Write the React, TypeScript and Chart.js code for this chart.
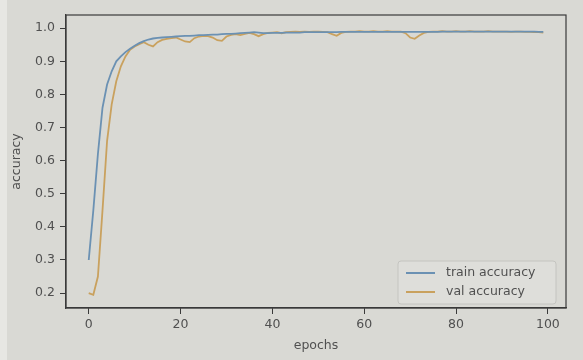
import React, { useEffect, useRef } from 'react';
import { Chart, registerables } from 'chart.js';

Chart.register(...registerables);

const EPOCHS: number[] = Array.from({ length: 100 }, (_, i) => i);

const TRAIN_ACC: number[] = [
  0.30, 0.45, 0.62, 0.76, 0.83, 0.87, 0.90, 0.915, 0.928, 0.938,
  0.947, 0.955, 0.961, 0.966, 0.969, 0.971, 0.972, 0.973, 0.974, 0.975,
  0.976, 0.977, 0.977, 0.978, 0.979, 0.979, 0.980, 0.981, 0.981, 0.982,
  0.983, 0.983, 0.984, 0.985, 0.986, 0.987, 0.988, 0.987, 0.985, 0.985,
  0.986, 0.986, 0.986, 0.987, 0.987, 0.987, 0.987, 0.988, 0.988, 0.988,
  0.988, 0.988, 0.988, 0.988, 0.988, 0.989, 0.989, 0.989, 0.989, 0.989,
  0.989, 0.989, 0.989, 0.989, 0.989, 0.989, 0.989, 0.989, 0.989, 0.989,
  0.989, 0.989, 0.989, 0.989, 0.989, 0.989, 0.989, 0.990, 0.990, 0.990,
  0.990, 0.990, 0.990, 0.990, 0.990, 0.990, 0.990, 0.990, 0.990, 0.990,
  0.990, 0.990, 0.990, 0.990, 0.990, 0.990, 0.990, 0.990, 0.989, 0.989,
];

const VAL_ACC: number[] = [
  0.20, 0.195, 0.25, 0.45, 0.66, 0.77, 0.84, 0.885, 0.915, 0.935,
  0.945, 0.952, 0.958, 0.950, 0.945, 0.958, 0.965, 0.968, 0.970, 0.972,
  0.966, 0.960, 0.958, 0.970, 0.975, 0.977, 0.976, 0.972, 0.964, 0.962,
  0.975, 0.980, 0.982, 0.979, 0.983, 0.986, 0.982, 0.976, 0.982, 0.986,
  0.987, 0.988, 0.985, 0.988, 0.989, 0.990, 0.989, 0.990, 0.989, 0.990,
  0.990, 0.989, 0.988, 0.982, 0.977, 0.986, 0.989, 0.990, 0.990, 0.991,
  0.990, 0.990, 0.991, 0.990, 0.990, 0.991, 0.990, 0.990, 0.990, 0.985,
  0.972, 0.968, 0.978, 0.986, 0.989, 0.990, 0.990, 0.991, 0.990, 0.990,
  0.991, 0.990, 0.990, 0.991, 0.990, 0.990, 0.990, 0.991, 0.990, 0.990,
  0.990, 0.990, 0.989, 0.990, 0.990, 0.989, 0.989, 0.988, 0.988, 0.987,
];

const X_TICKS: number[] = [0, 20, 40, 60, 80, 100];
const Y_TICKS: number[] = [0.2, 0.3, 0.4, 0.5, 0.6, 0.7, 0.8, 0.9, 1.0];

const SERIES_LABELS = ['train accuracy', 'val accuracy'];
const SERIES_COLORS = ['#6b91b3', '#c9a15e'];

const TEXT = '#505050';
const AXIS = '#3a3a3a';
const FONT = 'DejaVu Sans';

const bgPlugin = {
  id: 'bg',
  beforeDraw(chart: any) {
    const ctx = chart.ctx;
    ctx.save();
    ctx.fillStyle = '#d9d9d4';
    ctx.fillRect(0, 0, chart.width, chart.height);
    ctx.fillStyle = '#e7e7e3';
    ctx.fillRect(0, 0, 7, chart.height);
    ctx.restore();
  },
};

const framePlugin = {
  id: 'frame',
  afterDraw(chart: any) {
    const { ctx, chartArea: a } = chart;
    ctx.save();
    ctx.strokeStyle = AXIS;
    ctx.lineWidth = 1.2;
    ctx.strokeRect(a.left, a.top, a.right - a.left, a.bottom - a.top);
    // legend
    const w = 158;
    const h = 43;
    const x = a.right - 10 - w;
    const y = a.bottom - 4 - h;
    ctx.fillStyle = 'rgba(222,222,218,0.85)';
    ctx.strokeStyle = '#c4c4c0';
    ctx.lineWidth = 1;
    ctx.beginPath();
    const r = 3;
    ctx.moveTo(x + r, y);
    ctx.lineTo(x + w - r, y);
    ctx.quadraticCurveTo(x + w, y, x + w, y + r);
    ctx.lineTo(x + w, y + h - r);
    ctx.quadraticCurveTo(x + w, y + h, x + w - r, y + h);
    ctx.lineTo(x + r, y + h);
    ctx.quadraticCurveTo(x, y + h, x, y + h - r);
    ctx.lineTo(x, y + r);
    ctx.quadraticCurveTo(x, y, x + r, y);
    ctx.closePath();
    ctx.fill();
    ctx.stroke();
    ctx.font = `12.5px "${FONT}"`;
    ctx.textBaseline = 'middle';
    chart.data.datasets.forEach((ds: any, i: number) => {
      const cy = y + 12 + i * 19;
      ctx.strokeStyle = ds.borderColor;
      ctx.lineWidth = 2;
      ctx.beginPath();
      ctx.moveTo(x + 8, cy);
      ctx.lineTo(x + 37, cy);
      ctx.stroke();
      ctx.fillStyle = TEXT;
      ctx.fillText(ds.label, x + 48, cy);
    });
    ctx.restore();
  },
};

export default function App() {
  const ref = useRef<HTMLCanvasElement>(null);

  useEffect(() => {
    if (!ref.current) return;
    const chart = new Chart(ref.current, {
      type: 'line',
      data: {
        datasets: [TRAIN_ACC, VAL_ACC].map((vals, i) => ({
          label: SERIES_LABELS[i],
          data: EPOCHS.map((e, j) => ({ x: e, y: vals[j] })),
          borderColor: SERIES_COLORS[i],
          backgroundColor: SERIES_COLORS[i],
          borderWidth: 1.8,
          pointRadius: 0,
          tension: 0,
          fill: false,
        })),
      },
      options: {
        animation: false,
        responsive: false,
        devicePixelRatio: 1,
        layout: { padding: { top: 15, right: 17, left: 0, bottom: 0 } },
        plugins: { legend: { display: false }, tooltip: { enabled: false } },
        scales: {
          x: {
            type: 'linear',
            min: -4.95,
            max: 103.95,
            afterBuildTicks: (s: any) => {
              s.ticks = X_TICKS.map((v) => ({ value: v }));
            },
            afterFit: (s: any) => {
              s.height = 52;
            },
            ticks: {
              color: TEXT,
              font: { family: FONT, size: 12.5 },
              padding: 3,
              maxRotation: 0,
              autoSkip: false,
              callback: (v: any) => String(v),
            },
            grid: { drawOnChartArea: false, drawTicks: true, tickLength: 6, color: AXIS, lineWidth: 1 },
            border: { display: true, color: AXIS, width: 1.2 },
            title: {
              display: true,
              text: 'epochs',
              color: TEXT,
              font: { family: FONT, size: 12.5 },
              padding: { top: 0, bottom: 7 },
            },
          },
          y: {
            type: 'linear',
            min: 0.155,
            max: 1.04,
            afterBuildTicks: (s: any) => {
              s.ticks = Y_TICKS.map((v) => ({ value: v }));
            },
            afterFit: (s: any) => {
              s.width = 66;
            },
            ticks: {
              color: TEXT,
              font: { family: FONT, size: 12.5 },
              padding: 5,
              callback: (v: any) => Number(v).toFixed(1),
            },
            grid: { drawOnChartArea: false, drawTicks: true, tickLength: 6, color: AXIS, lineWidth: 1 },
            border: { display: true, color: AXIS, width: 1.2 },
            title: {
              display: true,
              text: 'accuracy',
              color: TEXT,
              font: { family: FONT, size: 12.5 },
              padding: { top: 9, bottom: 0 },
            },
          },
        },
      },
      plugins: [bgPlugin, framePlugin],
    } as any);
    return () => chart.destroy();
  }, []);

  return (
    <div style={{ position: 'absolute', left: 0, top: 0, width: 583, height: 360 }}>
      <canvas ref={ref} width={583} height={360} style={{ display: 'block', width: 583, height: 360 }} />
    </div>
  );
}
